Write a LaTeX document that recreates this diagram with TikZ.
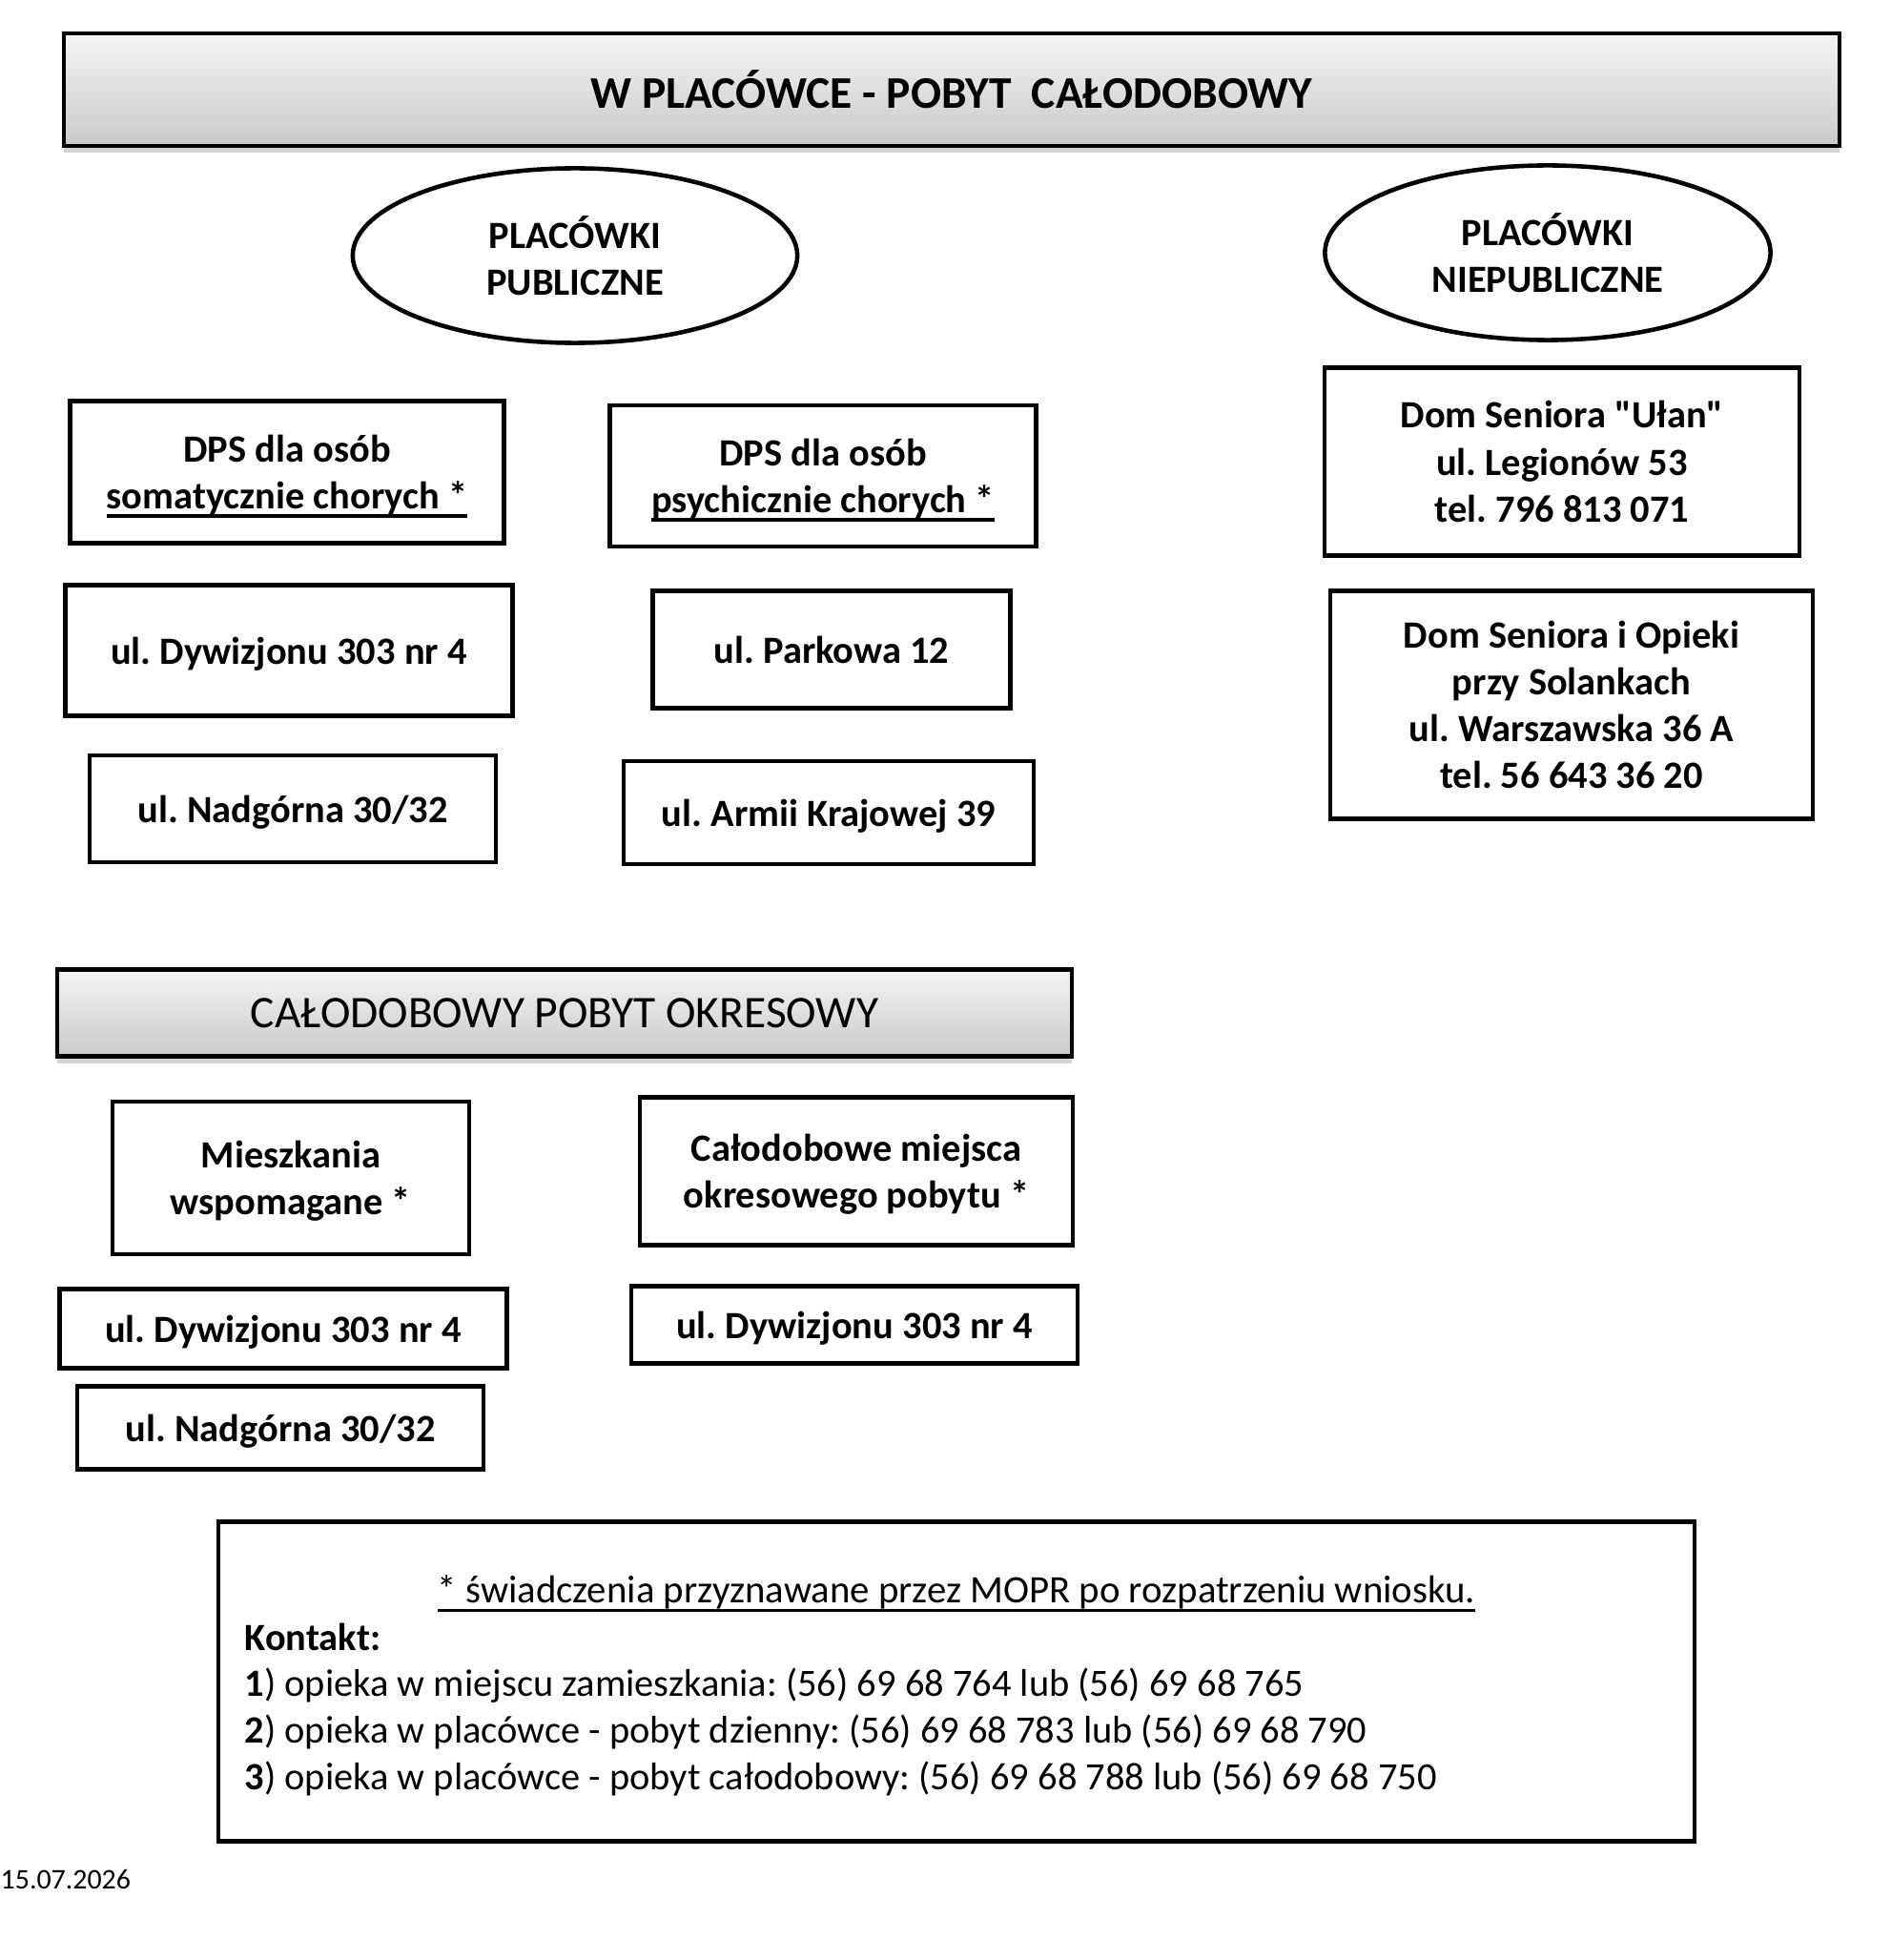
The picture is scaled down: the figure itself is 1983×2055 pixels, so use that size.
\documentclass[tikz,border=0pt]{standalone}
\usepackage{fontspec}
\setmainfont{Carlito}
\newsavebox\ulbox
\newcommand\ulthick[1]{\sbox\ulbox{#1}\rlap{\rule[-2.6pt]{\wd\ulbox}{1pt}}\usebox\ulbox}
\frenchspacing
\usetikzlibrary{shapes.geometric,shadows}

\tikzset{
  box/.style={draw, line width=1.3pt, align=center, inner sep=0pt,
    font=\bfseries\fontsize{11.5}{14}\selectfont},
  lowbox/.style={box, text depth=0pt},
  oval/.style={box, ellipse},
  bar/.style={draw, line width=1.3pt, inner sep=0pt,
    top color=gray!8, bottom color=gray!42,
    drop shadow={shadow xshift=0pt, shadow yshift=-2pt, opacity=0.35}},
  note/.style={anchor=west, inner sep=0pt, font=\fontsize{11.5}{14}\selectfont}
}

\begin{document}
\begin{tikzpicture}[x=0.01cm, y=-0.01cm]
  \useasboundingbox (0,0) rectangle (1983,2055);

  % naglowek
  \node[bar, minimum width=18.61cm, minimum height=1.18cm,
    font=\bfseries\fontsize{13.5}{16}\selectfont] (title) at (998,94)
    {W PLACÓWCE - POBYT\ \ CAŁODOBOWY};

  \node[oval, minimum width=4.66cm, minimum height=1.83cm] (publ) at (603,268)
    {PLACÓWKI\\PUBLICZNE};
  \node[oval, minimum width=4.67cm, minimum height=1.83cm] (niepubl) at (1623,265)
    {PLACÓWKI\\NIEPUBLICZNE};

  % placowki publiczne
  \node[lowbox, minimum width=4.55cm, minimum height=1.49cm] (soma) at (301,495)
    {DPS dla osób\\\ulthick{somatycznie chorych *}};
  \node[lowbox, minimum width=4.47cm, minimum height=1.48cm] (psych) at (863,499)
    {DPS dla osób\\\ulthick{psychicznie chorych *}};
  \node[lowbox, minimum width=4.69cm, minimum height=1.37cm] (dyw1) at (303,682)
    {ul. Dywizjonu 303 nr 4};
  \node[lowbox, minimum width=3.75cm, minimum height=1.23cm] (parkowa) at (872,681)
    {ul. Parkowa 12};
  \node[lowbox, minimum width=4.26cm, minimum height=1.12cm] (nadg1) at (307,848)
    {ul. Nadgórna 30/32};
  \node[lowbox, minimum width=4.30cm, minimum height=1.08cm] (armii) at (869,852)
    {ul. Armii Krajowej 39};

  % placowki niepubliczne
  \node[box, minimum width=4.98cm, minimum height=1.97cm] (ulan) at (1638,484)
    {Dom Seniora \textquotedbl Ułan\textquotedbl\\ul. Legionów 53\\tel. 796 813 071};
  \node[box, minimum width=5.06cm, minimum height=2.39cm] (solanki) at (1648,739)
    {Dom Seniora i Opieki\\przy Solankach\\ul. Warszawska 36 A\\tel. 56 643 36 20};

  % pobyt okresowy
  \node[bar, minimum width=10.63cm, minimum height=0.91cm,
    font=\fontsize{13.5}{16}\selectfont] (okres) at (592,1062)
    {CAŁODOBOWY POBYT OKRESOWY};
  \node[lowbox, minimum width=3.74cm, minimum height=1.60cm] (miesz) at (305,1235)
    {Mieszkania\\wspomagane *};
  \node[lowbox, minimum width=4.54cm, minimum height=1.55cm] (miejsca) at (898,1228)
    {Całodobowe miejsca\\okresowego pobytu *};
  \node[lowbox, minimum width=4.69cm, minimum height=0.83cm] (dyw2) at (297,1393)
    {ul. Dywizjonu 303 nr 4};
  \node[lowbox, minimum width=4.68cm, minimum height=0.81cm] (dyw3) at (896,1389)
    {ul. Dywizjonu 303 nr 4};
  \node[lowbox, minimum width=4.26cm, minimum height=0.87cm] (nadg2) at (294,1497)
    {ul. Nadgórna 30/32};

  % informacja
  \node[box, minimum width=15.47cm, minimum height=3.35cm] (info) at (1003,1763) {};
  \node[note, anchor=center, font=\fontsize{11.6}{14}\selectfont] (gwiazdka) at (1003,1671)
    {\ulthick{* świadczenia przyznawane przez MOPR po rozpatrzeniu wniosku.}};
  \node[note] (kontakt) at (256,1716) {\textbf{Kontakt:}};
  \node[note] (k1) at (256,1767)
    {\textbf{1}) opieka w miejscu zamieszkania: (56) 69 68 764 lub (56) 69 68 765};
  \node[note] (k2) at (256,1816)
    {\textbf{2}) opieka w placówce - pobyt dzienny: (56) 69 68 783 lub (56) 69 68 790};
  \node[note] (k3) at (256,1865)
    {\textbf{3}) opieka w placówce - pobyt całodobowy: (56) 69 68 788 lub (56) 69 68 750};

  \node[note, font=\fontsize{8.5}{10}\selectfont] (data) at (0,1970) {15.07.2026};
\end{tikzpicture}
\end{document}
